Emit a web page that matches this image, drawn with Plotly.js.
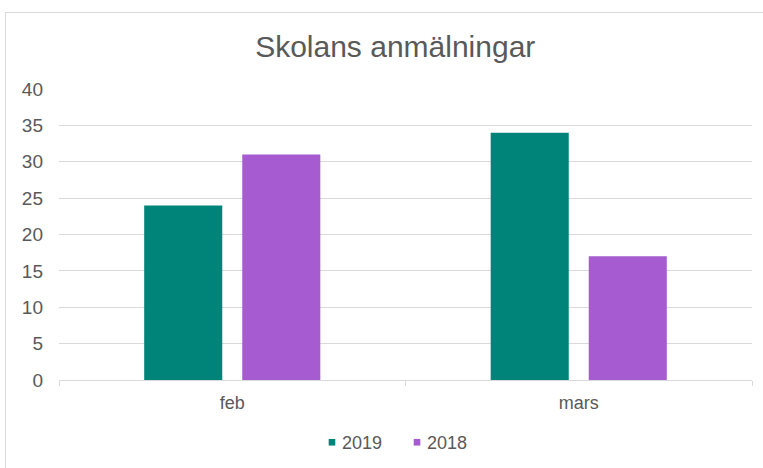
<!DOCTYPE html>
<html>
<head>
<meta charset="utf-8">
<script src="https://cdn.plot.ly/plotly-3.0.1.min.js"></script>
<style>
html,body{margin:0;padding:0;background:#fff;}
#wrap{position:relative;width:763px;height:468px;overflow:hidden;}
#frame{position:absolute;left:5px;top:12px;width:800px;height:500px;border-left:1px solid #D9D9D9;border-top:1px solid #D9D9D9;pointer-events:none;}
#chart{position:absolute;left:0;top:0;width:763px;height:468px;}
</style>
</head>
<body>
<div id="wrap">
<div id="chart"></div>
<div id="frame"></div>
</div>
<script>
const categories = ["feb", "mars"];
const series2019 = [24, 34];
const series2018 = [31, 17];
const seriesNames = ["2019", "2018"];
const chartTitle = "Skolans anmälningar";

const textColor = "#595959";
const font = "Liberation Sans, Arial, sans-serif";

const traces = [
  {type: "bar", name: seriesNames[0], x: categories, y: series2019,
   marker: {color: "#00847A"}, hoverinfo: "none"},
  {type: "bar", name: seriesNames[1], x: categories, y: series2018,
   marker: {color: "#A65CD0"}, hoverinfo: "none"}
];

const layout = {
  width: 763, height: 468,
  margin: {l: 59, r: 11, t: 89, b: 88, autoexpand: false},
  paper_bgcolor: "rgba(0,0,0,0)",
  plot_bgcolor: "#fff",
  title: {text: chartTitle, font: {family: font, size: 30, color: textColor},
          x: 0.518, xanchor: "center", y: 0.9, yanchor: "middle"},
  barmode: "group",
  bargap: 0.434,
  bargroupgap: 0.204,
  font: {family: font, color: textColor, size: 18},
  xaxis: {
    type: "category",
    showline: true, linecolor: "#D9D9D9", linewidth: 1,
    ticks: "outside", tickson: "boundaries", ticklen: 5, tickcolor: "#D9D9D9",
    ticklabelstandoff: 6,
    tickfont: {family: font, size: 18, color: textColor},
    showgrid: false, zeroline: false
  },
  yaxis: {
    range: [0, 40], dtick: 5, tick0: 0,
    showgrid: true, gridcolor: "#D9D9D9", gridwidth: 1,
    zeroline: false, showline: false, ticks: "",
    ticklabelstandoff: 15,
    tickfont: {family: font, size: 19, color: textColor}
  },
  showlegend: true,
  legend: {orientation: "h", x: 0.474, xanchor: "center", y: -0.215, yanchor: "middle",
           font: {family: font, size: 18, color: textColor},
           itemwidth: 30, tracegroupgap: 0}
};

Plotly.newPlot("chart", traces, layout, {staticPlot: true, displayModeBar: false}).then(function (gd) {
  // shrink legend swatches to small squares like the original
  gd.querySelectorAll(".legend .legendpoints path").forEach(function (p) {
    p.setAttribute("transform", "translate(30,0) scale(0.55)");
  });
});
</script>
</body>
</html>
